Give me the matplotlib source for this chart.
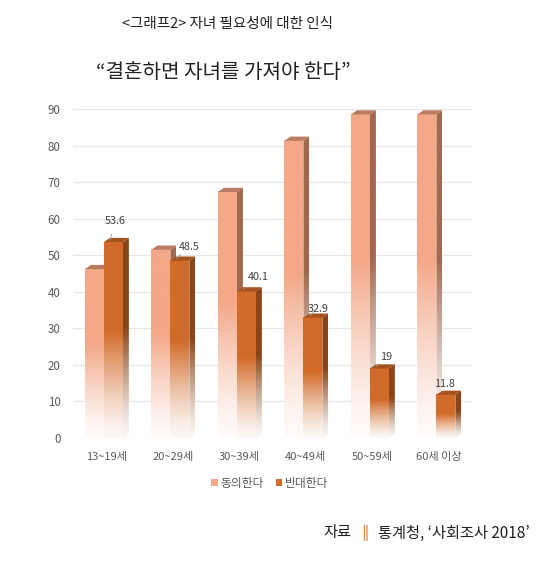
import numpy as np
import matplotlib
matplotlib.use("Agg")
import matplotlib.pyplot as plt
from matplotlib.patches import Polygon, Patch
from matplotlib.colors import to_rgb

plt.rcParams['font.family'] = ['Noto Sans CJK KR', 'DejaVu Sans']

# ---- data ----
categories = ["13~19세", "20~29세", "30~39세", "40~49세", "50~59세", "60세 이상"]
agree = [46.2, 51.5, 67.3, 81.3, 88.5, 88.5]
oppose = [53.6, 48.5, 40.1, 32.9, 19, 11.8]
oppose_labels = ["53.6", "48.5", "40.1", "32.9", "19", "11.8"]
series_names = ["동의한다", "반대한다"]
yticks = [0, 10, 20, 30, 40, 50, 60, 70, 80, 90]

# label offsets (layout only)
lab_dx = [0.13, 0.25, 0.28, 0.18, 0.21, 0.09]
lab_dy = [5.8, 3.8, 3.9, 2.4, 3.1, 2.9]

W, H = 550, 564
fig = plt.figure(figsize=(W / 100, H / 100), dpi=100)
fig.patch.set_facecolor("white")

ax_l, ax_r = 73, 472
ax_b, ax_t = 438, 109
ax = fig.add_axes([ax_l / W, 1 - ax_b / H, (ax_r - ax_l) / W, (ax_b - ax_t) / H])
ax.set_xlim(-0.5, len(categories) - 0.5)
ax.set_ylim(0, 90)
for s in ax.spines.values():
    s.set_visible(False)
ax.set_yticks(yticks)
ax.set_yticklabels([str(v) for v in yticks], fontsize=8.3, color="#595959")
ax.set_xticks(range(len(categories)))
ax.set_xticklabels(categories, fontsize=8, color="#595959")
ax.tick_params(length=0)
ax.tick_params(axis='y', pad=9)
ax.tick_params(axis='x', pad=10)
ax.grid(axis='y', color="#E6E6E6", linewidth=0.9)
ax.set_axisbelow(True)

dx, dy = 0.09, 1.15


def grad_img(color, n=200):
    c = np.array(to_rgb(color))
    t = np.linspace(0, 1, n)[:, None]  # 0 bottom .. 1 top
    f = np.clip(t / 0.55, 0, 1) ** 1.3
    f = 0.04 + 0.96 * f
    img = 1 - (1 - c[None, :]) * f
    return img[:, None, :]


def bar3d(x0, x1, h, front, side, top, z):
    ax.imshow(grad_img(front), extent=[x0, x1, 0, h], origin='lower',
              aspect='auto', zorder=z, interpolation='bilinear')
    poly = Polygon([(x1, 0), (x1 + dx, dy), (x1 + dx, h + dy), (x1, h)],
                   closed=True, facecolor='none', edgecolor='none')
    ax.add_patch(poly)
    im2 = ax.imshow(grad_img(side), extent=[x1, x1 + dx, 0, h + dy], origin='lower',
                    aspect='auto', zorder=z, interpolation='bilinear')
    im2.set_clip_path(poly)
    ax.add_patch(Polygon([(x0, h), (x0 + dx, h + dy), (x1 + dx, h + dy), (x1, h)],
                         closed=True, facecolor=top, edgecolor='none', zorder=z + 0.1))


agree_c = ("#F3A888", "#A2684F", "#B97B62")
oppose_c = ("#D26A2A", "#8A4517", "#A4531F")

for i in range(len(categories)):
    bar3d(i - 0.32, i - 0.035, agree[i], *agree_c, z=2)
    bar3d(i - 0.035, i + 0.25, oppose[i], *oppose_c, z=3)
    tx, ty = i + lab_dx[i], oppose[i] + lab_dy[i]
    ax.annotate(oppose_labels[i], xy=(i + 0.06, oppose[i] + dy * 0.6),
                xytext=(tx, ty), ha='center', va='center', fontsize=7.8,
                color="#404040", zorder=6,
                arrowprops=dict(arrowstyle='-', color="#A6A6A6", lw=0.7,
                                shrinkA=4, shrinkB=0))

ax.set_xlim(-0.5, len(categories) - 0.5)
ax.set_ylim(0, 90)

handles = [Patch(facecolor="#F3A888", edgecolor='none'),
           Patch(facecolor="#D26A2A", edgecolor='none')]
fig.legend(handles, series_names, loc='center', bbox_to_anchor=(270 / W, 1 - 483 / H),
           ncol=2, frameon=False, fontsize=8.5, handlelength=0.55, handleheight=0.55,
           handletextpad=0.25, columnspacing=1.0, labelcolor="#595959")

fig.text(227 / W, 1 - 24 / H, "<그래프2> 자녀 필요성에 대한 인식", ha='center', va='center',
         fontsize=10.5, color="#222222", fontweight='light')
fig.text(223 / W, 1 - 72 / H, "\u201c결혼하면 자녀를 가져야 한다\u201d", ha='center', va='center',
         fontsize=14.5, color="#222222", fontweight='light')

fig.text(323 / W, 1 - 533 / H, "자료", ha='left', va='center', fontsize=11, color="#222222",
         fontweight='light')
fig.text(361 / W, 1 - 533 / H, "‖", ha='left', va='center', fontsize=11, color="#E08A3C",
         family=['DejaVu Sans'])
fig.text(378 / W, 1 - 533 / H, "통계청, \u2018사회조사 2018\u2019", ha='left', va='center',
         fontsize=11, color="#222222", fontweight='light')

fig.savefig("out.png", dpi=100, facecolor="white")
